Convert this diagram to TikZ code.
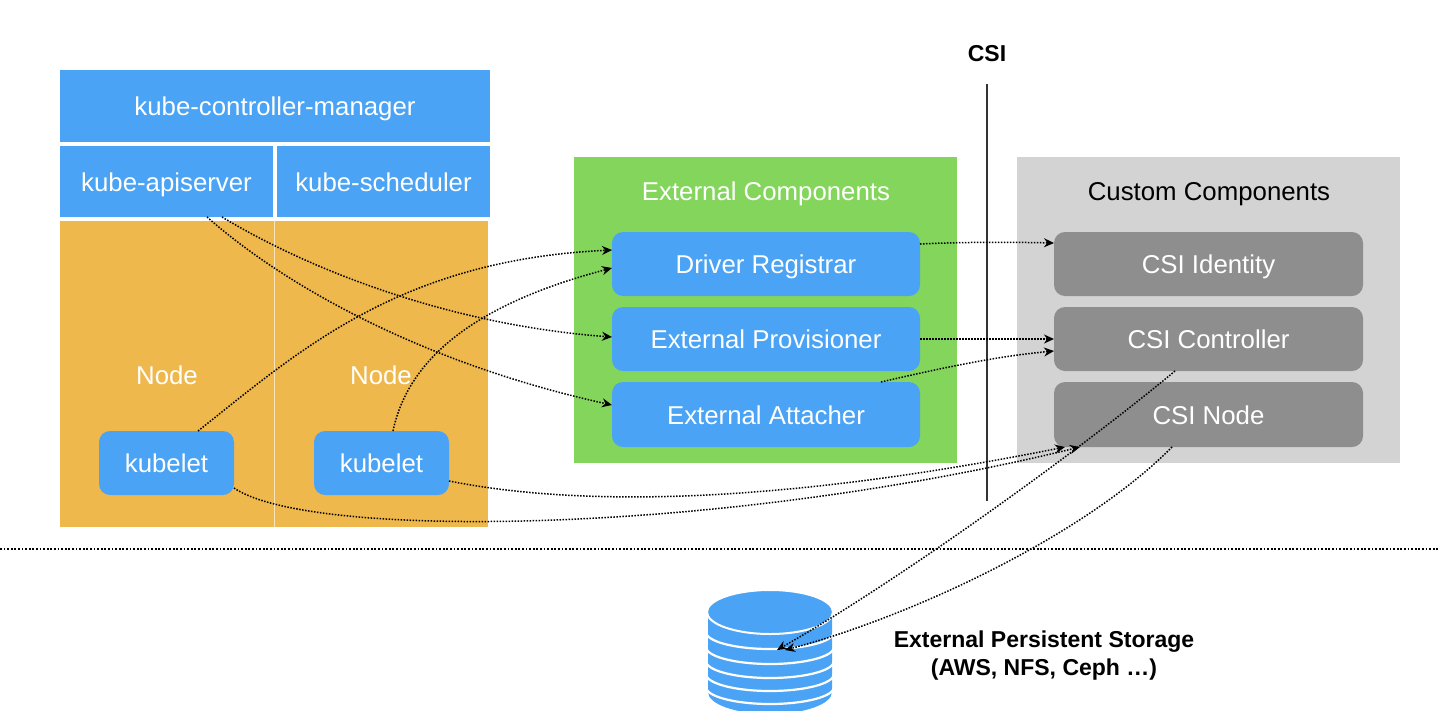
\documentclass[tikz,border=0pt]{standalone}
\usepackage{fontspec}
\setmainfont{Liberation Sans}
\usetikzlibrary{arrows.meta}
\definecolor{kblue}{HTML}{4AA3F5}
\definecolor{korange}{HTML}{EFB84C}
\definecolor{kgreen}{HTML}{84D55C}
\definecolor{klight}{HTML}{D3D3D3}
\definecolor{kdark}{HTML}{8E8E8E}
\tikzset{
  panel/.style={anchor=north west,inner sep=0pt,outer sep=0pt,text=white,font=\fontsize{25.8}{30}\selectfont,text height=20pt,text depth=1pt},
  bluebox/.style={panel,fill=kblue},
  orangebox/.style={panel,fill=korange},
  roundblue/.style={panel,fill=kblue,rounded corners=11pt},
  rounddark/.style={panel,fill=kdark,rounded corners=11pt},
  title/.style={inner sep=0pt,font=\fontsize{25.8}{30}\selectfont,text height=20pt,text depth=1pt},
  boldtext/.style={inner sep=0pt,font=\fontsize{23}{28}\selectfont\bfseries,text=black,align=center},
  link/.style={draw=black,line width=1.5pt,dash pattern=on 1.5pt off 1.5pt,-{Stealth[length=10pt,width=9pt]}},
}
\begin{document}
\begin{tikzpicture}[x=1pt,y=-1pt]
\useasboundingbox (0,0) rectangle (1438,710);
% control plane
\node[bluebox,minimum width=430pt,minimum height=72pt] (ctrl) at (60,70) {kube-controller-manager};
\node[bluebox,minimum width=213pt,minimum height=71pt] (api) at (60,146) {kube-apiserver};
\node[bluebox,minimum width=213pt,minimum height=71pt] (sched) at (277,146) {kube-scheduler};
% nodes
\node[orangebox,minimum width=214pt,minimum height=306pt] (nodeA) at (60,221) {};
\node[orangebox,minimum width=214pt,minimum height=306pt] (nodeB) at (274,221) {};
\draw[white!60!korange,line width=1pt] (nodeA.north east) -- (nodeA.south east);
\node[title,text=white] (nodeAt) at (167,375) {Node};
\node[title,text=white] (nodeBt) at (381,375) {Node};
\node[roundblue,minimum width=135pt,minimum height=64pt] (kubA) at (99,431) {kubelet};
\node[roundblue,minimum width=135pt,minimum height=64pt] (kubB) at (314,431) {kubelet};
% external components
\node[panel,fill=kgreen,minimum width=383pt,minimum height=306pt] (ext) at (574,157) {};
\node[title,text=white] (extt) at (766,191) {External Components};
\node[roundblue,minimum width=308pt,minimum height=64pt] (reg) at (612,232) {Driver Registrar};
\node[roundblue,minimum width=308pt,minimum height=64pt] (prov) at (612,307) {External Provisioner};
\node[roundblue,minimum width=308pt,minimum height=65pt] (att) at (612,382) {External Attacher};
% custom components
\node[panel,fill=klight,minimum width=383pt,minimum height=306pt] (cus) at (1017,157) {};
\node[title,text=black] (cust) at (1209,191) {Custom Components};
\node[rounddark,minimum width=309pt,minimum height=64pt] (ident) at (1054,232) {CSI Identity};
\node[rounddark,minimum width=309pt,minimum height=64pt] (cctl) at (1054,307) {CSI Controller};
\node[rounddark,minimum width=309pt,minimum height=65pt] (cnode) at (1054,382) {CSI Node};
% CSI divider
\node[boldtext] (csi) at (987,54) {CSI};
\coordinate (csiT) at (987,84);
\coordinate (csiB) at (987,501);
\draw[black!80,line width=2.2pt] (csiT) -- (csiB);
% horizon
\coordinate (hL) at (0,549);
\coordinate (hR) at (1438,549);
\draw[black,line width=1.6pt,dash pattern=on 1.8pt off 1.8pt] (hL) -- (hR);
% storage
\fill[kblue] (708,612) -- (708,692) arc[start angle=180,end angle=0,x radius=62,y radius=22] -- (832,612) -- cycle;
\foreach \yy in {632,647,661,674,687}{
  \draw[white,line width=2.2pt] (706,\yy) arc[start angle=180,end angle=0,x radius=64,y radius=17];
}
\fill[kblue,draw=white,line width=2pt] (770,612) ellipse[x radius=63,y radius=22];
\coordinate (stA) at (777,650);
\coordinate (stB) at (785,650);
\node[boldtext] (stT) at (1044,656) {External Persistent Storage\\(AWS, NFS, Ceph …)};
% connectors
\draw[link] ([xshift=162pt]api.south west) .. controls (310,270) and (450,325) .. ([yshift=2pt]prov.west);
\draw[link] ([xshift=147pt]api.south west) .. controls (290,290) and (430,365) .. ([yshift=9.5pt]att.west);
\draw[link] ([xshift=99pt]kubA.north west) .. controls (300,350) and (400,260) .. ([yshift=14pt]reg.west);
\draw[link] ([xshift=79pt]kubB.north west) .. controls (410,350) and (490,300) .. ([yshift=-4pt]reg.west);
\draw[link] ([yshift=20pt]reg.east) .. controls (960,242) and (1010,242) .. ([yshift=21pt]ident.west);
\draw[link] (prov.east) -- (cctl.west);
\draw[link] ([xshift=269pt]att.north west) .. controls (950,366) and (1000,356) .. ([yshift=-12pt]cctl.west);
\draw[link] ([yshift=-18pt]kubB.east) .. controls (620,515) and (850,490) .. ([xshift=11pt]cnode.south west);
\draw[link] ([yshift=7pt]kubA.south east) .. controls (310,540) and (720,535) .. ([xshift=26pt]cnode.south west);
\draw[link] ([xshift=121pt]cctl.south west) .. controls (1080,450) and (900,580) .. (stA);
\draw[link] ([xshift=118pt]cnode.south west) .. controls (1080,540) and (900,620) .. (stB);
\end{tikzpicture}
\end{document}
